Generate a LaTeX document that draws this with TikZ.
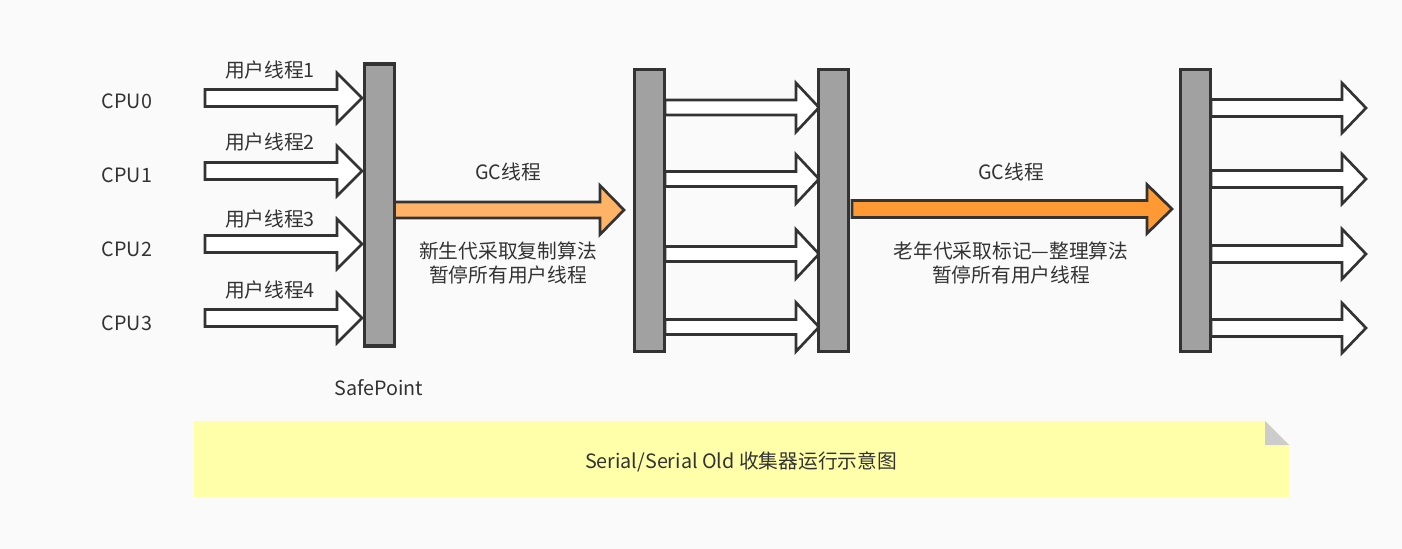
\documentclass[tikz,border=0pt]{standalone}
\usepackage{fontspec}
\setmainfont{Noto Sans CJK SC}
\begin{document}
\begin{tikzpicture}[x=0.75pt,y=-0.75pt,
  txt/.style={text=black!80, font=\fontsize{14.8pt}{18pt}\selectfont, inner sep=0pt},
  arrowline/.style={draw=black!80, line width=2pt, line join=miter},
  barbox/.style={draw=black!80, fill=black!37, line width=2.3pt, inner sep=0pt, minimum width=29.5*0.75pt, minimum height=282*0.75pt},
]
\newcommand\blockarr[7]{%
  \draw[arrowline, fill=#7] (#1,#4-#5) -- (#2,#4-#5) -- (#2,#4-#6) -- (#3,#4) -- (#2,#4+#6) -- (#2,#4+#5) -- (#1,#4+#5) -- cycle;}
\definecolor{bgc}{RGB}{250,250,250}
\definecolor{or1}{RGB}{255,179,102}
\definecolor{or2}{RGB}{255,153,51}
\definecolor{notey}{RGB}{255,255,170}
\fill[bgc] (0,0) rectangle (1402,549);
\useasboundingbox (0,0) rectangle (1402,549);

% left arrows
\foreach \y in {98,171,244,318} { \blockarr{205}{337}{362}{\y}{8.5}{25}{white} }
% middle arrows
\foreach \y in {107.5,179,254,327} { \blockarr{665}{796}{819}{\y}{7.5}{24.5}{white} }
% right arrows
\foreach \y in {108,179,254,328} { \blockarr{1211}{1342}{1366}{\y}{8.5}{25}{white} }
% orange arrows
\blockarr{394}{600}{624}{210}{8}{24.5}{or1}
\blockarr{852}{1147}{1172}{209}{8.5}{24.5}{or2}

% bars
\node[barbox] (b1) at (379.5,205) {};
\node[barbox] (b2) at (649.5,210.5) {};
\node[barbox] (b3) at (833.5,210.5) {};
\node[barbox] (b4) at (1195.5,210.5) {};

% labels
\node[txt] (c0) at (127,101) {CPU0};
\node[txt] (c1) at (127,175) {CPU1};
\node[txt] (c2) at (127,249) {CPU2};
\node[txt] (c3) at (127,323) {CPU3};
\node[txt] (u1) at (270,70) {用户线程1};
\node[txt] (u2) at (270,142) {用户线程2};
\node[txt] (u3) at (270,219) {用户线程3};
\node[txt] (u4) at (270,290) {用户线程4};
\node[txt] (sp) at (379,388) {SafePoint};
\node[txt] (g1) at (508,172) {GC线程};
\node[txt] (g2) at (1011,172) {GC线程};
\node[txt, align=center] (n1) at (508,263) {新生代采取复制算法\\暂停所有用户线程};
\node[txt, align=center] (n2) at (1011,263) {老年代采取标记—整理算法\\暂停所有用户线程};

% note
\fill[notey] (194,421) -- (1265,421) -- (1289,445) -- (1289,497) -- (194,497) -- cycle;
\fill[black!20] (1265,421) -- (1289,445) -- (1265,445) -- cycle;
\node[txt] (title) at (741,462) {Serial/Serial Old 收集器运行示意图};
\end{tikzpicture}
\end{document}
